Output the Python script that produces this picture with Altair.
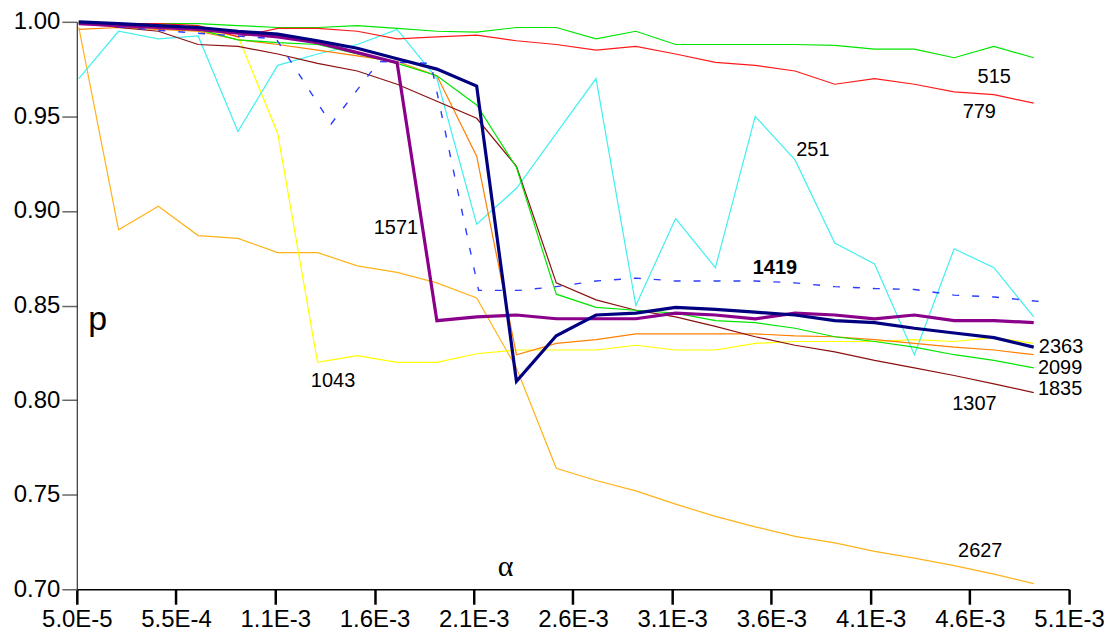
import altair as alt
import pandas as pd

# ---------------- data ----------------
alpha = [0.00006, 0.0002625, 0.000465, 0.0006675, 0.00087, 0.0010725, 0.001275,
         0.0014775, 0.00168, 0.0018825, 0.002085, 0.0022875, 0.00249, 0.0026925,
         0.002895, 0.0030975, 0.0033, 0.0035025, 0.003705, 0.0039075, 0.00411,
         0.0043125, 0.004515, 0.0047175, 0.00492]

p_251 = [0.970, 0.995, 0.991, 0.9925, 0.942, 0.977, 0.983, 0.988, 0.996, 0.970, 0.893,
         0.912, 0.941, 0.970, 0.850, 0.896, 0.870, 0.950, 0.927, 0.883, 0.872, 0.824,
         0.880, 0.870, 0.844]
p_515 = [1.000, 0.999, 0.999, 0.999, 0.998, 0.997, 0.997, 0.998, 0.9965, 0.995, 0.9945,
         0.997, 0.997, 0.991, 0.995, 0.988, 0.988, 0.988, 0.988, 0.9875, 0.9856, 0.9856,
         0.981, 0.987, 0.981]
p_779 = [1.000, 0.999, 0.999, 0.998, 0.992, 0.9965, 0.9965, 0.995, 0.991, 0.992, 0.993,
         0.990, 0.988, 0.985, 0.987, 0.983, 0.9786, 0.977, 0.974, 0.967, 0.970, 0.967,
         0.963, 0.9615, 0.957]
p_1043 = [1.000, 0.998, 0.997, 0.995, 0.9925, 0.941, 0.820, 0.8235, 0.820, 0.820, 0.8245,
          0.8265, 0.8265, 0.8265, 0.829, 0.8265, 0.8265, 0.830, 0.831, 0.831, 0.831,
          0.832, 0.831, 0.833, 0.830]
p_1307 = [0.996, 0.997, 0.996, 0.995, 0.9905, 0.988, 0.985, 0.982, 0.979, 0.9715, 0.929,
          0.824, 0.830, 0.832, 0.835, 0.835, 0.835, 0.835, 0.834, 0.8335, 0.832, 0.830,
          0.828, 0.8265, 0.824]
p_1835 = [1.000, 0.997, 0.995, 0.988, 0.987, 0.983, 0.978, 0.974, 0.967, 0.958, 0.949,
          0.9236, 0.862, 0.853, 0.8475, 0.844, 0.839, 0.8335, 0.829, 0.8255, 0.821,
          0.817, 0.813, 0.8086, 0.804]
p_2099 = [0.999, 0.998, 0.997, 0.996, 0.9905, 0.989, 0.988, 0.983, 0.978, 0.9715, 0.956,
          0.923, 0.856, 0.849, 0.8475, 0.846, 0.842, 0.841, 0.838, 0.8335, 0.831, 0.828,
          0.824, 0.821, 0.817]
p_1571 = [0.999, 0.998, 0.997, 0.996, 0.994, 0.992, 0.989, 0.9837, 0.9784, 0.842, 0.844,
          0.845, 0.843, 0.843, 0.843, 0.846, 0.845, 0.843, 0.846, 0.845, 0.843, 0.845,
          0.842, 0.842, 0.841]
p_2363 = [1.000, 0.999, 0.998, 0.997, 0.995, 0.9935, 0.990, 0.986, 0.9805, 0.975, 0.966,
          0.810, 0.834, 0.845, 0.846, 0.849, 0.848, 0.8465, 0.845, 0.842, 0.841, 0.838,
          0.8355, 0.833, 0.828]
p_2627 = [0.997, 0.890, 0.9025, 0.887, 0.8855, 0.878, 0.878, 0.871, 0.8675, 0.862, 0.854,
          0.817, 0.764, 0.7575, 0.752, 0.745, 0.7385, 0.733, 0.728, 0.7245, 0.720, 0.7165,
          0.7125, 0.708, 0.703]

alpha_1419 = [0.00006, 0.000532, 0.001065, 0.001344, 0.001588, 0.001852, 0.002095,
              0.002298, 0.002491, 0.002694, 0.002897, 0.003095, 0.003298, 0.003501,
              0.003704, 0.003907, 0.00411, 0.004313, 0.004516, 0.004719, 0.004963]
p_1419 = [0.999, 0.995, 0.991, 0.946, 0.979, 0.978, 0.858, 0.858, 0.860, 0.863, 0.8645,
          0.863, 0.863, 0.863, 0.862, 0.860, 0.859, 0.8585, 0.8555, 0.8545, 0.852]

thin_names = ["2627", "1043", "251", "515", "779", "1307", "1835", "2099"]
thin_colors = ["#ffb31a", "#ffff00", "#40f0f0", "#00e600", "#ff1a1a", "#ff8000", "#8b1010", "#00e600"]

label_text = ["515", "779", "251", "1571", "1043", "2363", "2099", "1835", "1307", "2627"]
label_alpha = [0.004719, 0.004643, 0.003796, 0.001674, 0.001354, 0.005059, 0.005054,
               0.005054, 0.004618, 0.004648]
label_p = [0.9678, 0.9494, 0.9293, 0.8877, 0.8070, 0.8250, 0.8139, 0.8028, 0.7949, 0.7169]

bold_text = ["1419"]
bold_alpha = [0.003603]
bold_p = [0.8666]

x_ticks = [0.00005, 0.000555, 0.00106, 0.001565, 0.00207, 0.002575, 0.00308, 0.003585,
           0.00409, 0.004595, 0.0051]
x_tick_labels = ["5.0E-5", "5.5E-4", "1.1E-3", "1.6E-3", "2.1E-3", "2.6E-3", "3.1E-3",
                 "3.6E-3", "4.1E-3", "4.6E-3", "5.1E-3"]
y_ticks = [0.70, 0.75, 0.80, 0.85, 0.90, 0.95, 1.00]

# ---------------- tables ----------------
series_vals = {"251": p_251, "515": p_515, "779": p_779, "1043": p_1043, "1307": p_1307,
               "1835": p_1835, "2099": p_2099, "2627": p_2627}
thin_rows = []
for name in thin_names:
    for a, v in zip(alpha, series_vals[name]):
        thin_rows.append({"alpha": a, "p": v, "series": name})
df_thin = pd.DataFrame(thin_rows)
df_1419 = pd.DataFrame({"alpha": alpha_1419, "p": p_1419})
df_1571 = pd.DataFrame({"alpha": alpha, "p": p_1571})
df_2363 = pd.DataFrame({"alpha": alpha, "p": p_2363})
df_lab = pd.DataFrame({"alpha": label_alpha, "p": label_p, "t": label_text})
df_bold = pd.DataFrame({"alpha": bold_alpha, "p": bold_p, "t": bold_text})
df_ptitle = pd.DataFrame({"alpha": [0.0001566], "p": [0.8371], "t": ["p"]})
df_atitle = pd.DataFrame({"alpha": [0.002232], "p": [0.7069], "t": ["α"]})

# ---------------- axes ----------------
expr = f"'{x_tick_labels[-1]}'"
for i in range(len(x_ticks) - 2, -1, -1):
    mid = (x_ticks[i] + x_ticks[i + 1]) / 2
    expr = f"datum.value < {mid} ? '{x_tick_labels[i]}' : ({expr})"

xs = alt.Scale(domain=[0.00005, 0.0051], nice=False, zero=False)
ys = alt.Scale(domain=[0.70, 1.00], nice=False, zero=False)
x_axis = alt.Axis(values=x_ticks, labelExpr=expr, title=None, grid=False,
                  domainColor="#000000", domainWidth=1.5, tickColor="#000000",
                  tickWidth=2.5, tickSize=15, labelFontSize=24, labelPadding=3,
                  labelFont="Liberation Sans", labelColor="#000000", labelFlush=False,
                  labelOverlap=False)
y_axis = alt.Axis(values=y_ticks, format=".2f", title=None, grid=False,
                  domainColor="#333333", domainWidth=1.2, tickColor="#666666",
                  tickWidth=1.5, tickSize=15, labelFontSize=24, labelPadding=2,
                  labelFont="Liberation Sans", labelColor="#000000", labelOverlap=False)

X = alt.X("alpha:Q", scale=xs, axis=x_axis)
Y = alt.Y("p:Q", scale=ys, axis=y_axis)

thin = alt.Chart(df_thin).mark_line(strokeWidth=1.2).encode(
    x=X, y=Y,
    color=alt.Color("series:N", scale=alt.Scale(domain=thin_names, range=thin_colors), legend=None),
)
dashed = alt.Chart(df_1419).mark_line(strokeWidth=1.4, strokeDash=[7, 13], color="#2a3cff").encode(x=X, y=Y)
purple = alt.Chart(df_1571).mark_line(strokeWidth=3.2, color="#8b008b").encode(x=X, y=Y)
navy = alt.Chart(df_2363).mark_line(strokeWidth=3.2, color="#000080").encode(x=X, y=Y)

labels = alt.Chart(df_lab).mark_text(fontSize=20, font="Liberation Sans", align="center",
                                     baseline="alphabetic", color="#000000").encode(x=X, y=Y, text="t:N")
bold = alt.Chart(df_bold).mark_text(fontSize=20, font="Liberation Sans", fontWeight="bold",
                                    align="center", baseline="alphabetic", color="#000000").encode(x=X, y=Y, text="t:N")
ptitle = alt.Chart(df_ptitle).mark_text(fontSize=34, font="Liberation Sans", align="center",
                                        baseline="alphabetic", color="#000000").encode(x=X, y=Y, text="t:N")
atitle = alt.Chart(df_atitle).mark_text(fontSize=30, font="Liberation Serif", align="center",
                                        baseline="alphabetic", color="#000000").encode(x=X, y=Y, text="t:N")

chart = alt.layer(thin, dashed, purple, navy, labels, bold, ptitle, atitle).properties(
    width=995, height=569,
    autosize=alt.AutoSizeParams(type="none"),
    padding={"left": 69, "top": 13, "right": 35, "bottom": 41},
    background="#ffffff",
).configure_view(stroke=None)

chart.save("out.html", embed_options={"renderer": "svg", "actions": False})
